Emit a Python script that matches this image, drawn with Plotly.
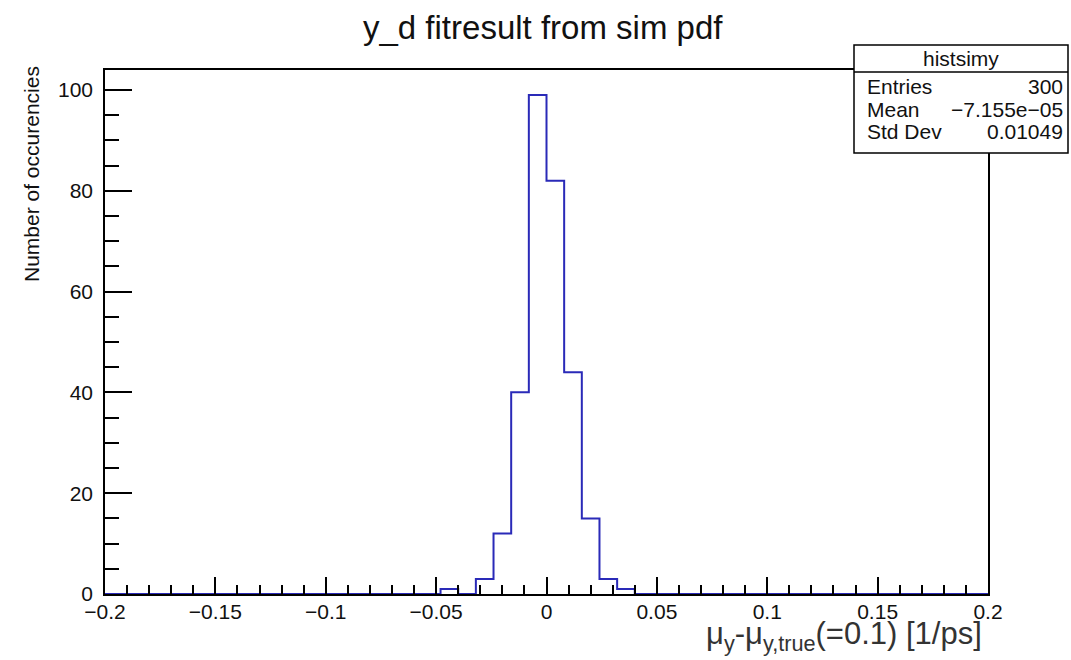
import plotly.graph_objects as go

# ---- data ----
x_min, x_max = -0.2, 0.2
bin_width = 0.008
counts = [0, 0, 0, 0, 0, 0, 0, 0, 0, 0,
          0, 0, 0, 0, 0, 0, 0, 0, 0, 1,
          0, 3, 12, 40, 99, 82, 44, 15, 3, 1,
          0, 0, 0, 0, 0, 0, 0, 0, 0, 0,
          0, 0, 0, 0, 0, 0, 0, 0, 0, 0]
x_tickvals = [-0.2, -0.15, -0.1, -0.05, 0, 0.05, 0.1, 0.15, 0.2]
x_ticktext = ["\u22120.2", "\u22120.15", "\u22120.1", "\u22120.05", "0", "0.05", "0.1", "0.15", "0.2"]
y_tickvals = [0, 20, 40, 60, 80, 100]
stats_name = "histsimy"
stats_labels = ["Entries", "Mean", "Std Dev"]
stats_values = ["300", "\u22127.155e\u221205", "0.01049"]

edges = [x_min + i * bin_width for i in range(len(counts) + 1)]
ys = counts + [counts[-1]]
y_max = max(counts) * 1.05

W, H = 1071, 660
L, R, T, B = 105, 988, 70, 594

def px(x):
    return (x - L) / (R - L)

def py(y):
    return (B - y) / (B - T)

FONT = "Liberation Sans, Arial, sans-serif"

fig = go.Figure()
fig.add_trace(go.Scatter(x=edges, y=ys, mode="lines", line_shape="hv",
                         line=dict(color="#2a2ab8", width=2), showlegend=False,
                         hoverinfo="skip"))

fig.update_layout(
    width=W, height=H,
    margin=dict(l=L, r=W - R, t=T, b=H - B),
    paper_bgcolor="white", plot_bgcolor="white",
    font=dict(family=FONT, color="black"),
    showlegend=False,
)
fig.update_xaxes(range=[x_min, x_max], showgrid=False, zeroline=False,
                 showline=True, mirror=True, linecolor="black", linewidth=1.5,
                 ticks="inside", ticklen=17, tickwidth=1.5, tickcolor="black",
                 tickvals=x_tickvals, ticktext=x_ticktext, ticklabelstandoff=-2,
                 tickfont=dict(size=21, color="#111"),
                 minor=dict(dtick=0.01, tick0=-0.2, ticks="inside", ticklen=9,
                            tickwidth=1.5, tickcolor="black", showgrid=False))
fig.update_yaxes(range=[0, y_max], showgrid=False, zeroline=False,
                 showline=True, mirror=True, linecolor="black", linewidth=1.5,
                 ticks="inside", ticklen=27, tickwidth=1.5, tickcolor="black",
                 tickvals=y_tickvals, ticklabelstandoff=6,
                 tickfont=dict(size=21, color="#111"),
                 minor=dict(dtick=5, tick0=0, ticks="inside", ticklen=14,
                            tickwidth=1.5, tickcolor="black", showgrid=False))

ann = []
# title
ann.append(dict(text="y_d fitresult from sim pdf", x=px(543), y=py(27),
                xref="paper", yref="paper", showarrow=False,
                font=dict(size=33, color="#111"), xanchor="center", yanchor="middle"))
# y title
ann.append(dict(text="Number of occurencies", x=px(32), y=py(64),
                xref="paper", yref="paper", showarrow=False, textangle=-90,
                font=dict(size=21, color="#111"), xanchor="center", yanchor="top"))
# x title
ann.append(dict(text="\u03bc<sub>y</sub>-\u03bc<sub>y,true</sub>(=0.1) [1/ps]",
                x=px(984), y=py(636), xref="paper", yref="paper", showarrow=False,
                font=dict(size=31, color="#333"), xanchor="right", yanchor="middle"))

# stats box
bx0, bx1, by0, by1, bhl = 854, 1068, 45, 153, 72
shapes = [
    dict(type="rect", xref="paper", yref="paper", x0=px(bx0), x1=px(bx1),
         y0=py(by1), y1=py(by0), fillcolor="white", line=dict(color="black", width=1.5),
         layer="above"),
    dict(type="line", xref="paper", yref="paper", x0=px(bx0), x1=px(bx1),
         y0=py(bhl), y1=py(bhl), line=dict(color="black", width=1.5), layer="above"),
]
ann.append(dict(text=stats_name, x=px((bx0 + bx1) / 2), y=py(58), xref="paper", yref="paper",
                showarrow=False, font=dict(size=21, color="#111"),
                xanchor="center", yanchor="middle"))
row_y = [86, 109, 131]
for lab, val, ry in zip(stats_labels, stats_values, row_y):
    ann.append(dict(text=lab, x=px(865), y=py(ry), xref="paper", yref="paper",
                    showarrow=False, font=dict(size=21, color="#111"),
                    xanchor="left", yanchor="middle"))
    ann.append(dict(text=val, x=px(1065), y=py(ry), xref="paper", yref="paper",
                    showarrow=False, font=dict(size=21, color="#111"),
                    xanchor="right", yanchor="middle"))

fig.update_layout(annotations=ann, shapes=shapes)
fig.write_html("out.html")
